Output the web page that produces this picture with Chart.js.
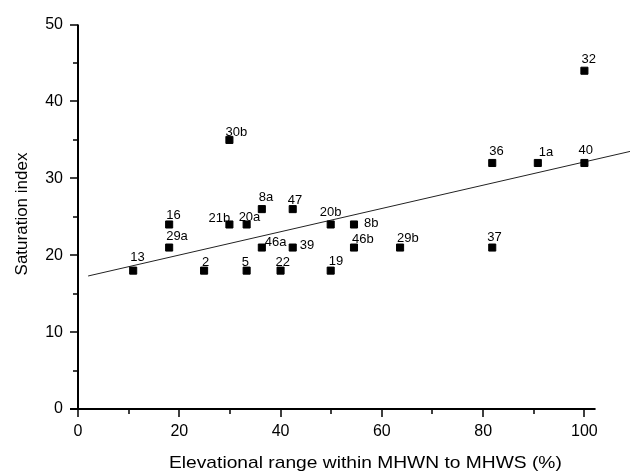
<!DOCTYPE html>
<html>
<head>
<meta charset="utf-8">
<script src="https://cdn.jsdelivr.net/npm/chart.js@4/dist/chart.umd.min.js"></script>
<style>
  body { margin: 0; background: #fff; }
  #wrap { width: 638px; height: 474px; }
</style>
</head>
<body>
<div id="wrap"><canvas id="grafico" width="638" height="474"></canvas></div>
<script>
// sites: elevational range (%) vs saturation index
const sites = ["13", "16", "29a", "2", "21b", "30b", "20a", "5", "8a", "46a", "22", "47", "39",
  "20b", "19", "8b", "46b", "29b", "36", "37", "1a", "32", "40"];
const elevRange = [10.9, 18, 18, 24.9, 29.9, 29.9, 33.3, 33.3, 36.3, 36.3, 40, 42.4, 42.4,
  49.9, 49.9, 54.5, 54.5, 63.6, 81.8, 81.8, 90.8, 100, 100];
const satIndex = [18, 24, 21, 18, 24, 35, 24, 18, 26, 21, 18, 26, 21,
  24, 18, 24, 21, 21, 32, 21, 32, 44, 32];

// fitted regression line (end points)
const fitX = [2, 109];
const fitY = [17.3, 33.5];

const xTicks = [0, 20, 40, 60, 80, 100];
const xMinor = [10, 30, 50, 70, 90];
const yTicks = [0, 10, 20, 30, 40, 50];
const yMinor = [5, 15, 25, 35, 45];

// where each label sits relative to its square (px: left edge, baseline)
const labelOffset = {
  "13": [-3, -10], "16": [-3, -5], "29a": [-3, -8], "2": [-2, -5], "21b": [-21, -2],
  "30b": [-4, -4], "20a": [-8, -3], "5": [-5, -5], "8a": [-3, -8], "46a": [3, -2],
  "22": [-5, -5], "47": [-5, -5], "39": [7, 1], "20b": [-11, -8], "19": [-2, -6],
  "8b": [10, 3], "46b": [-2, -5], "29b": [-3, -6], "36": [-3, -8], "37": [-5, -7],
  "1a": [1, -7], "32": [-3, -8], "40": [-6, -9]
};

const FONT = "'Liberation Sans', Arial, Helvetica, sans-serif";

const pontos = elevRange.map((x, i) => ({ x: x, y: satIndex[i] }));
const linha = fitX.map((x, i) => ({ x: x, y: fitY[i] }));

// axes, tick marks, point labels and titles
const desenho = {
  id: "desenho",
  afterDatasetsDraw(chart) {
    const ctx = chart.ctx;
    const xs = chart.scales.x, ys = chart.scales.y;
    const x0 = xs.getPixelForValue(0), y0 = ys.getPixelForValue(0);
    ctx.save();
    ctx.strokeStyle = "#000";
    ctx.lineWidth = 2;
    ctx.beginPath();
    ctx.moveTo(x0, ys.getPixelForValue(50));
    ctx.lineTo(x0, y0);
    ctx.moveTo(x0 - 8, y0);
    ctx.lineTo(xs.getPixelForValue(102.2), y0);
    ctx.stroke();

    ctx.lineWidth = 1.5;
    ctx.beginPath();
    xTicks.forEach(v => { const p = Math.round(xs.getPixelForValue(v)); ctx.moveTo(p, y0); ctx.lineTo(p, y0 + 8); });
    xMinor.forEach(v => { const p = Math.round(xs.getPixelForValue(v)); ctx.moveTo(p, y0); ctx.lineTo(p, y0 + 5); });
    yTicks.forEach(v => { const p = Math.round(ys.getPixelForValue(v)); ctx.moveTo(x0, p); ctx.lineTo(x0 - 8, p); });
    yMinor.forEach(v => { const p = Math.round(ys.getPixelForValue(v)); ctx.moveTo(x0, p); ctx.lineTo(x0 - 5, p); });
    ctx.stroke();

    // labels of the sites
    ctx.fillStyle = "#000";
    ctx.font = "13px " + FONT;
    ctx.textAlign = "left";
    ctx.textBaseline = "alphabetic";
    chart.getDatasetMeta(0).data.forEach((pt, i) => {
      const off = labelOffset[sites[i]] || [0, -6];
      ctx.fillText(sites[i], pt.x + off[0], pt.y + off[1]);
    });

    // axis titles
    ctx.font = "17px " + FONT;
    ctx.save();
    ctx.translate(169, 468);
    ctx.scale(1.13, 1);
    ctx.fillText("Elevational range within MHWN to MHWS (%)", 0, 0);
    ctx.restore();

    ctx.save();
    ctx.translate(22, 214);
    ctx.rotate(-Math.PI / 2);
    ctx.textAlign = "center";
    ctx.textBaseline = "middle";
    ctx.fillText("Saturation index", 0, 0);
    ctx.restore();
    ctx.restore();
  }
};

const config_grafico = {
  type: "scatter",
  data: {
    datasets: [
      {
        data: pontos,
        pointStyle: "rect",
        pointRadius: 5,
        borderWidth: 1,
        backgroundColor: "#000",
        borderColor: "#000",
      },
      {
        type: "line",
        data: linha,
        borderColor: "#222",
        borderWidth: 1,
        pointRadius: 0,
        fill: false,
      },
    ],
  },
  options: {
    responsive: false,
    animation: false,
    events: [],
    layout: { padding: { top: 14, right: 7, left: 0, bottom: 0 } },
    plugins: {
      legend: { display: false },
      tooltip: { enabled: false },
    },
    scales: {
      x: {
        type: "linear",
        min: 0,
        max: 109.2,
        grid: { display: false, drawTicks: false },
        border: { display: false },
        afterBuildTicks: (s) => { s.ticks = xTicks.map(v => ({ value: v })); },
        afterFit: (s) => { s.height = 65; },
        ticks: { color: "#000", padding: 13, font: { size: 16, family: FONT } },
      },
      y: {
        min: 0,
        max: 50,
        grid: { display: false, drawTicks: false },
        border: { display: false },
        afterBuildTicks: (s) => { s.ticks = yTicks.map(v => ({ value: v })); },
        afterFit: (s) => { s.width = 78; },
        ticks: { color: "#000", padding: 15, font: { size: 16, family: FONT } },
      },
    },
  },
  plugins: [desenho],
};

const myChart = new Chart(document.getElementById("grafico"), config_grafico);
</script>
</body>
</html>
